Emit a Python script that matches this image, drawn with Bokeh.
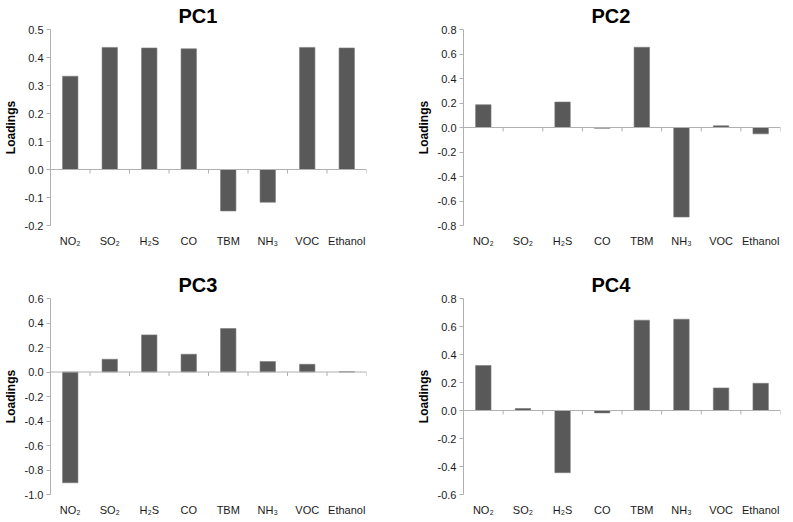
from bokeh.plotting import figure
from bokeh.layouts import gridplot
from bokeh.models import Range1d, FixedTicker, NumeralTickFormatter, Span
from bokeh.embed import file_html
from bokeh.resources import INLINE

categories = ["NO₂", "SO₂", "H₂S", "CO", "TBM", "NH₃", "VOC", "Ethanol"]

pc1 = [0.333, 0.436, 0.434, 0.431, -0.148, -0.117, 0.436, 0.434]
pc2 = [0.186, 0.0, 0.208, -0.007, 0.655, -0.731, 0.014, -0.052]
pc3 = [-0.904, 0.104, 0.303, 0.145, 0.355, 0.085, 0.063, 0.002]
pc4 = [0.321, 0.014, -0.444, -0.017, 0.645, 0.652, 0.161, 0.194]

pc1_ticks = [-0.2, -0.1, 0.0, 0.1, 0.2, 0.3, 0.4, 0.5]
pc2_ticks = [-0.8, -0.6, -0.4, -0.2, 0.0, 0.2, 0.4, 0.6, 0.8]
pc3_ticks = [-1.0, -0.8, -0.6, -0.4, -0.2, 0.0, 0.2, 0.4, 0.6]
pc4_ticks = [-0.6, -0.4, -0.2, 0.0, 0.2, 0.4, 0.6, 0.8]

BAR = "#595959"
AXIS = "#b0b0b0"
FONT = "Liberation Sans"
FRAME_H = 196
TICK_PX = 4


def make_panel(title, values, ticks, frame_w, bl, br, bt, bb):
    n = len(categories)
    xs = list(range(1, n + 1))
    p = figure(frame_width=frame_w, frame_height=FRAME_H, output_backend="svg",
               toolbar_location=None,
               x_range=Range1d(0.5, n + 0.5),
               y_range=Range1d(ticks[0], ticks[-1]),
               min_border_left=bl, min_border_right=br,
               min_border_top=bt, min_border_bottom=bb)
    p.outline_line_color = None
    p.grid.visible = False
    p.background_fill_color = "white"
    p.border_fill_color = "white"

    p.vbar(x=xs, top=values, bottom=0, width=0.39,
           fill_color=BAR, line_color="#7a7a7a", line_width=0.6)

    # zero line with ticks at the category boundaries
    p.add_layout(Span(location=0, dimension="width", line_color=AXIS, line_width=1))
    bounds = [x + 0.5 for x in range(0, n + 1)]
    tick_len = TICK_PX * (ticks[-1] - ticks[0]) / FRAME_H
    p.segment(x0=bounds, x1=bounds, y0=[0] * len(bounds),
              y1=[-tick_len] * len(bounds), line_color=AXIS, line_width=1)

    # title
    p.title.text = title
    p.title.align = "left"
    p.title.offset = 128
    p.title.text_font = FONT
    p.title.text_font_size = "20px"
    p.title.text_font_style = "bold"
    p.title.text_color = "black"
    p.title.standoff = 5

    # y axis
    ya = p.yaxis[0]
    ya.ticker = FixedTicker(ticks=ticks)
    ya.formatter = NumeralTickFormatter(format="0.0")
    ya.axis_label = "Loadings"
    ya.axis_label_text_font = FONT
    ya.axis_label_text_font_size = "12px"
    ya.axis_label_text_font_style = "bold"
    ya.axis_label_text_color = "black"
    ya.axis_label_standoff = 4
    ya.major_label_text_font = FONT
    ya.major_label_text_font_size = "11px"
    ya.major_label_text_color = "#1a1a1a"
    ya.major_label_standoff = 3
    ya.axis_line_color = AXIS
    ya.major_tick_line_color = AXIS
    ya.major_tick_in = 0
    ya.major_tick_out = 4
    ya.minor_tick_line_color = None

    # category labels along the bottom
    xa = p.xaxis[0]
    xa.ticker = FixedTicker(ticks=xs)
    xa.major_label_overrides = {x: c for x, c in zip(xs, categories)}
    xa.major_label_text_font = FONT
    xa.major_label_text_font_size = "11px"
    xa.major_label_text_color = "#1a1a1a"
    xa.major_label_standoff = 3
    xa.axis_line_color = None
    xa.major_tick_line_color = None
    xa.minor_tick_line_color = None
    return p


f1 = make_panel("PC1", pc1, pc1_ticks, 316, 44, 40, 24, 42)
f2 = make_panel("PC2", pc2, pc2_ticks, 317, 57, 3, 24, 42)
f3 = make_panel("PC3", pc3, pc3_ticks, 316, 44, 40, 31, 17)
f4 = make_panel("PC4", pc4, pc4_ticks, 317, 57, 3, 31, 17)

grid = gridplot([[f1, f2], [f3, f4]], toolbar_location=None)

open("out.html", "w").write(file_html(grid, INLINE))
